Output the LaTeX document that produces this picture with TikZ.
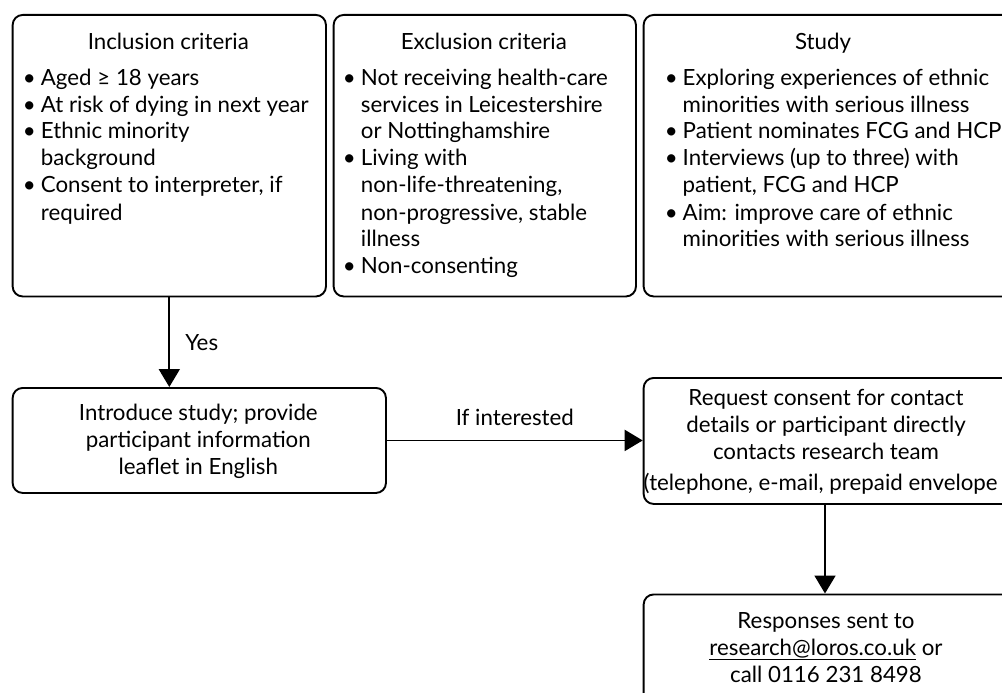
\documentclass[tikz,border=0pt]{standalone}
\usepackage{fontspec}
\setmainfont{Lato}
\usetikzlibrary{arrows.meta}
\newcommand\fs{\fontsize{22.3}{27}\selectfont}
\newcommand\bl{\leavevmode\llap{\textbullet\hspace{5pt}}}
\begin{document}
\begin{tikzpicture}[x=1pt,y=1pt,
  box/.style={draw, line width=1.9pt, rounded corners=10pt, inner sep=0pt, anchor=north west},
  arr/.style={line width=1.9pt, -{Triangle[length=18pt,width=21pt]}},
  txt/.style={inner sep=0pt, font=\fs},
]
\useasboundingbox (0,0) rectangle (1002,-693);
% boxes
\node[box, minimum width=313.3pt, minimum height=281.5pt] (inc) at (11.7,-14) {};
\node[box, minimum width=302.3pt, minimum height=281.5pt] (exc) at (332.7,-14) {};
\node[box, minimum width=380pt, minimum height=281.5pt] (stu) at (642.7,-14) {};
\node[box, minimum width=373.3pt, minimum height=105pt] (intro) at (11.7,-387) {};
\node[box, minimum width=380pt, minimum height=126pt] (req) at (642.7,-377) {};
\node[box, minimum width=380pt, minimum height=150pt] (resp) at (642.7,-593.5) {};
% titles
\node[txt, anchor=base] (inct) at (168.3,-50) {Inclusion criteria};
\node[txt, anchor=base] (exct) at (483.8,-50) {Exclusion criteria};
\node[txt, anchor=base] (stut) at (823,-50) {Study};
% lists
\node[txt, anchor=base west] (incl) at (40.7,-85) {\parbox[t]{280pt}{\fs\raggedright
\bl Aged ≥ 18 years\\
\bl At risk of dying in next year\\
\bl Ethnic minority\\
background\\
\bl Consent to interpreter, if\\
required}};
\node[txt, anchor=base west] (excl) at (360.7,-85) {\parbox[t]{270pt}{\fs\raggedright
\bl Not receiving health-care\\
services in Leicestershire\\
or Nottinghamshire\\
\bl Living with\\
non-life-threatening,\\
non-progressive, stable\\
illness\\
\bl Non-consenting}};
\node[txt, anchor=base west] (stul) at (682.5,-85) {\parbox[t]{330pt}{\fs\raggedright
\bl Exploring experiences of ethnic\\
minorities with serious illness\\
\bl Patient nominates FCG and HCP\\
\bl Interviews (up to three) with\\
patient, FCG and HCP\\
\bl Aim: improve care of ethnic\\
minorities with serious illness}};
% middle / bottom texts
\node[txt, anchor=base] (introt) at (198.3,-420) {\parbox[t]{360pt}{\fs\centering
Introduce study; provide\\participant information\\leaflet in English}};
\node[txt, anchor=base] (reqt) at (826,-405) {\parbox[t]{360pt}{\fs\centering
Request consent for contact\\details or participant directly\\contacts research team}};
\node[txt, anchor=base west] (reqt2) at (643.5,-490) {(telephone, e-mail, prepaid envelope};
\node[txt, anchor=base] (respt) at (826,-628) {\parbox[t]{360pt}{\fs\centering
Responses sent to\\\underline{research@loros.co.uk} or\\call 0116 231 8498}};
% connectors
\coordinate (c2) at (825,0);
\draw[arr] (inc.south) -- node[txt, anchor=west, xshift=15pt] (yes) {Yes} (inc.south |- intro.north);
\draw[arr] (intro.east) -- node[txt, anchor=south, yshift=14pt] (ifi) {If interested} (intro.east -| req.west);
\draw[arr] (req.south -| c2) -- (resp.north -| c2);
\end{tikzpicture}
\end{document}
